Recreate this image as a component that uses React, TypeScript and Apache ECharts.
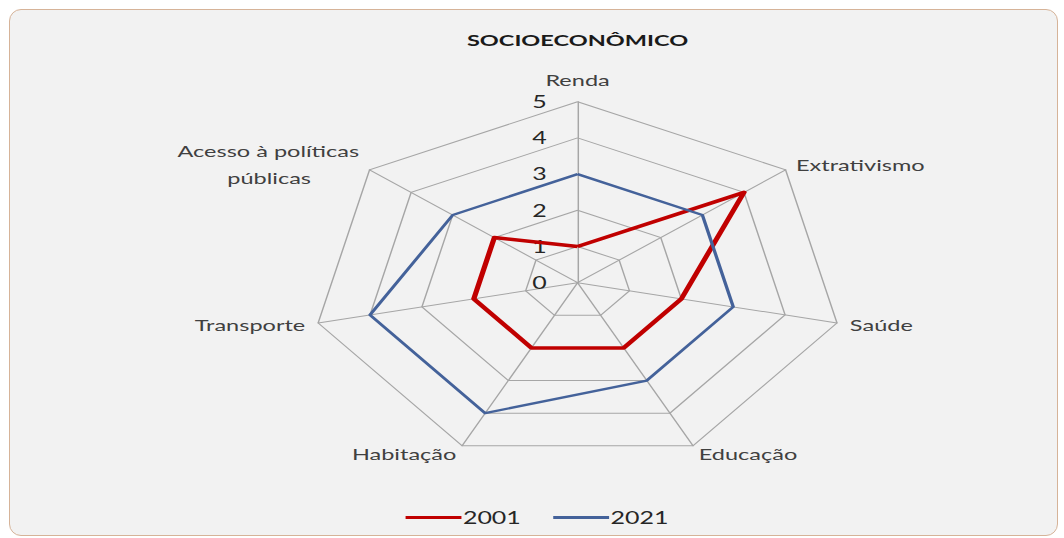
import React, { useEffect, useRef } from "react";
import * as echarts from "echarts";

// Data in the reference's (clockwise) order, starting at the top
const categories = [
  "Renda",
  "Extrativismo",
  "Saúde",
  "Educação",
  "Habitação",
  "Transporte",
  "Acesso à políticas\npúblicas        ",
];
const values2001 = [1, 4, 2, 2, 2, 2, 2];
const values2021 = [3, 3, 3, 3, 4, 4, 3];
const seriesNames = ["2001", "2021"];
const tickMax = 5;
const tickCount = 5;
const titleText = "SOCIOECONÔMICO";

const STRETCH = 1.47;
const FONT = "Lato, 'Liberation Sans', sans-serif";

export default function App() {
  const ref = useRef<HTMLDivElement>(null);

  useEffect(() => {
    if (!ref.current) return;
    const chart = echarts.init(ref.current, null, { renderer: "svg" });
    // ECharts places radar indicators counter-clockwise; reorder to draw clockwise
    const order = categories.map((_, i) => (i === 0 ? 0 : categories.length - i));
    const indicator = order.map((k, i) => ({
      name: categories[k],
      min: 0,
      max: tickMax,
      ...(i === 0 ? { axisLabel: { show: true } } : {}),
    }));
    const v01 = order.map((k) => values2001[k]);
    const v21 = order.map((k) => values2021[k]);

    chart.setOption({
      animation: false,
      backgroundColor: "transparent",
      title: {
        text: titleText,
        left: "center",
        top: 27,
        textStyle: {
          fontFamily: FONT,
          fontWeight: "bold",
          fontSize: 16,
          color: "#1a1a1a",
        },
      },
      legend: {
        data: seriesNames,
        left: 209,
        top: 504,
        icon: "rect",
        itemWidth: 38,
        itemHeight: 3,
        itemGap: 22,
        textStyle: { fontFamily: FONT, fontSize: 17, color: "#262626", padding: [0, 0, 0, -4] },
      },
      radar: {
        center: ["50%", 282.7],
        radius: 181,
        splitNumber: tickCount,
        shape: "polygon",
        nameGap: 9,
        axisName: {
          color: "#404040",
          fontFamily: FONT,
          fontSize: 16,
          lineHeight: 27,
        },
        axisLine: { lineStyle: { color: "#a6a6a6", width: 1 } },
        splitLine: { lineStyle: { color: "#a6a6a6", width: 1 } },
        splitArea: { show: false },
        axisTick: { show: false },
        axisLabel: {
          show: false,
          margin: 21,
          fontFamily: FONT,
          fontSize: 17,
          color: "#262626",
        },
        indicator,
      },
      series: [
        {
          type: "radar",
          symbol: "none",
          data: [
            {
              name: seriesNames[0],
              value: v01,
              lineStyle: { color: "#c00000", width: 3.6 },
              itemStyle: { color: "#c00000" },
            },
            {
              name: seriesNames[1],
              value: v21,
              lineStyle: { color: "#44629a", width: 2.3 },
              itemStyle: { color: "#44629a" },
            },
          ],
        },
      ],
    });
    return () => chart.dispose();
  }, []);

  return (
    <div
      style={{
        position: "fixed",
        left: 0,
        top: 0,
        width: 1064,
        height: 538,
        overflow: "hidden",
        background: "#ffffff",
      }}
    >
      <div
        style={{
          position: "absolute",
          left: 9,
          top: 9,
          width: 1049,
          height: 527,
          boxSizing: "border-box",
          border: "1px solid #d6b398",
          borderRadius: 12,
          background: "#f2f2f2",
        }}
      />
      <div
        ref={ref}
        style={{
          position: "absolute",
          left: 91,
          top: 0,
          width: 662,
          height: 538,
          transform: `scaleX(${STRETCH})`,
          transformOrigin: "0 0",
        }}
      />
    </div>
  );
}
